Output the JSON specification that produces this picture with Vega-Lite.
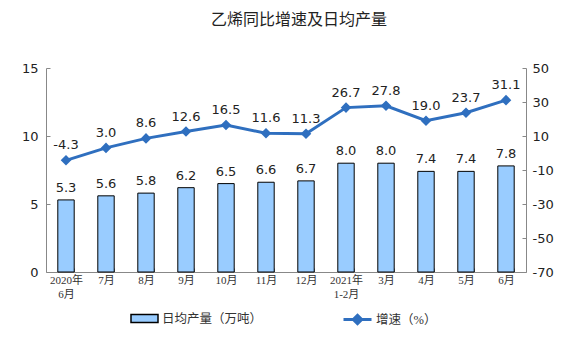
{
  "$schema": "https://vega.github.io/schema/vega-lite/v6.json",
  "width": 480,
  "height": 204,
  "autosize": {"type": "none"},
  "padding": {"left": 46, "top": 68, "right": 50, "bottom": 86},
  "background": "white",
  "title": {"text": "乙烯同比增速及日均产量", "font": "Noto Sans CJK SC", "fontSize": 16, "fontWeight": "normal", "color": "#222222", "frame": "group", "anchor": "middle", "offset": 34, "dx": 13},
  "config": {"view": {"stroke": null}, "axis": {"grid": false}, "axisRight": {"labelOverlap": false, "labelBound": false}},
  "data": {"values": [
    {"m": "2020年|6月", "prod": 5.3, "rate": -4.3},
    {"m": "7月", "prod": 5.6, "rate": 3.0},
    {"m": "8月", "prod": 5.8, "rate": 8.6},
    {"m": "9月", "prod": 6.2, "rate": 12.6},
    {"m": "10月", "prod": 6.5, "rate": 16.5},
    {"m": "11月", "prod": 6.6, "rate": 11.6},
    {"m": "12月", "prod": 6.7, "rate": 11.3},
    {"m": "2021年|1-2月", "prod": 8.0, "rate": 26.7},
    {"m": "3月", "prod": 8.0, "rate": 27.8},
    {"m": "4月", "prod": 7.4, "rate": 19.0},
    {"m": "5月", "prod": 7.4, "rate": 23.7},
    {"m": "6月", "prod": 7.8, "rate": 31.1}
  ]},
  "transform": [
    {"calculate": "replace(format(datum.rate, '.1f'), '\u2212', '-')", "as": "rateText"}
  ],
  "encoding": {
    "x": {"field": "m", "type": "nominal", "sort": null,
      "scale": {"paddingInner": 0.59, "paddingOuter": 0.295},
      "axis": {"title": null, "labelAngle": 0, "labelExpr": "split(datum.label, '|')", "labelFont": "Liberation Serif, Noto Sans CJK SC", "labelFontSize": 11, "labelColor": "#333333", "labelLineHeight": 14, "labelPadding": 6, "tickBand": "extent", "tickSize": -4, "tickColor": "#888888", "domainColor": "#888888"}}
  },
  "layer": [
    {
      "layer": [
        {"mark": {"type": "bar", "stroke": "black", "strokeWidth": 1},
         "encoding": {
           "y": {"field": "prod", "type": "quantitative", "scale": {"domain": [0, 15], "nice": false},
             "axis": {"title": null, "values": [0, 5, 10, 15], "labelFont": "DejaVu Sans", "labelFontSize": 13, "labelColor": "#222222", "tickSize": -4, "tickColor": "#888888", "domainColor": "#888888", "labelPadding": 12}},
           "fill": {"datum": "日均产量（万吨）", "type": "nominal", "scale": {"range": ["#99CCFF"]},
             "legend": {"title": null, "orient": "none", "legendX": 84, "legendY": 236, "symbolType": "M-1,-0.3H1V0.3H-1Z", "symbolSize": 729, "symbolStrokeColor": "black", "symbolStrokeWidth": 1.5, "labelFont": "Liberation Serif, Noto Sans CJK SC", "labelFontSize": 12.5, "labelColor": "#333333", "labelOffset": 3}}
         }},
        {"mark": {"type": "text", "dy": -12, "font": "DejaVu Sans", "fontSize": 13, "color": "#222222"},
         "encoding": {
           "y": {"field": "prod", "type": "quantitative"},
           "text": {"field": "prod", "type": "quantitative", "format": ".1f"}
         }}
      ]
    },
    {
      "layer": [
        {"mark": {"type": "line", "strokeWidth": 3, "point": {"shape": "diamond", "size": 60, "filled": true, "color": "#2F6FBF"}},
         "encoding": {
           "y": {"field": "rate", "type": "quantitative", "scale": {"domain": [-70, 50], "nice": false},
             "axis": {"orient": "right", "title": null, "values": [-70, -50, -30, -10, 10, 30, 50], "tickCount": 7, "labelOverlap": false, "labelExpr": "replace(datum.label, '\u2212', '-')", "labelFont": "DejaVu Sans", "labelFontSize": 13, "labelColor": "#222222", "tickSize": -4, "tickColor": "#888888", "domainColor": "#888888", "labelPadding": 10}},
           "stroke": {"datum": "增速（%）", "type": "nominal", "scale": {"range": ["#2F6FBF"]},
             "legend": {"title": null, "orient": "none", "legendX": 296, "legendY": 236, "symbolType": "M-1,0H1M0,-0.3L0.3,0L0,0.3L-0.3,0Z", "symbolSize": 784, "symbolStrokeWidth": 3, "symbolFillColor": "#2F6FBF", "labelFont": "Liberation Serif, Noto Sans CJK SC", "labelFontSize": 12.5, "labelColor": "#333333", "labelOffset": 3}}
         }},
        {"mark": {"type": "text", "dy": -15, "font": "DejaVu Sans", "fontSize": 13, "color": "#222222"},
         "encoding": {
           "y": {"field": "rate", "type": "quantitative"},
           "text": {"field": "rateText", "type": "nominal"}
         }}
      ]
    }
  ],
  "resolve": {"scale": {"y": "independent"}, "axis": {"y": "independent"}}
}
